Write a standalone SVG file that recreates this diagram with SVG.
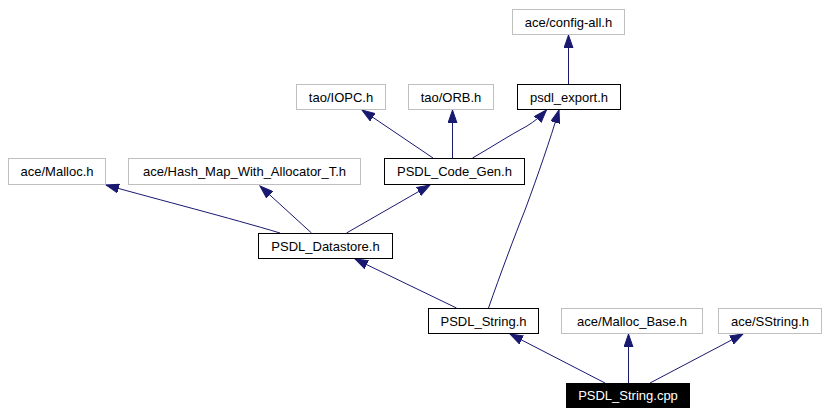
<svg xmlns="http://www.w3.org/2000/svg" width="827" height="415" viewBox="0 0 827 415">
<style>
.n rect{fill:#fff;stroke:#000;stroke-width:1}
.g rect{stroke:#bfbfbf}
.n text{font-family:"Liberation Sans",Arial,sans-serif;font-size:13px;text-anchor:middle;fill:#000}
#n_cpp rect{fill:#000;stroke:#000}
#n_cpp text{fill:#fff}
.e path{fill:none;stroke:#191970;stroke-width:1;marker-end:url(#arr)}
</style>
<defs>
<marker id="arr" markerUnits="userSpaceOnUse" markerWidth="14" markerHeight="10" refX="13" refY="5" orient="auto">
<path d="M0,0.5 L13,5 L0,9.5 z" fill="#191970" stroke="#191970"/>
</marker>
</defs>
<rect width="827" height="415" fill="#fff"/>
<g id="edges" class="e">
<path d="M568.5,84 L568.5,35"/>
<path d="M433,158 L362,110"/>
<path d="M452.5,158 L452.5,110"/>
<path d="M472.5,158 C490,148 510,135 527,126 C535,121 541,116 546.5,110"/>
<path d="M488.5,308 C500,275 515,235 525,210 C538,175 550,140 559,110"/>
<path d="M280,233 C230,218 160,200 106,185"/>
<path d="M311.5,233 L260,186"/>
<path d="M346.5,233 L430,185"/>
<path d="M456.5,308 L355,259"/>
<path d="M605,383 L510,334"/>
<path d="M628.5,383 L628.5,334"/>
<path d="M650,383 L743,334"/>
</g>
<g id="n_config" class="n g"><rect x="512.5" y="9.5" width="112" height="25"/><text x="568.5" y="26.5">ace/config-all.h</text></g>
<g id="n_iopc" class="n g"><rect x="296.5" y="84.5" width="89" height="25"/><text x="341" y="101.5">tao/IOPC.h</text></g>
<g id="n_orb" class="n g"><rect x="408.5" y="84.5" width="85" height="25"/><text x="451" y="101.5">tao/ORB.h</text></g>
<g id="n_export" class="n"><rect x="517.5" y="84.5" width="103" height="25"/><text x="569" y="101.5">psdl_export.h</text></g>
<g id="n_malloc" class="n g"><rect x="8.5" y="158.5" width="97" height="26"/><text x="57" y="176">ace/Malloc.h</text></g>
<g id="n_hash" class="n g"><rect x="128.5" y="158.5" width="232" height="26"/><text x="244.5" y="176">ace/Hash_Map_With_Allocator_T.h</text></g>
<g id="n_codegen" class="n"><rect x="384.5" y="158.5" width="140" height="26"/><text x="454.5" y="176">PSDL_Code_Gen.h</text></g>
<g id="n_datastore" class="n"><rect x="258.5" y="233.5" width="134" height="25"/><text x="325.5" y="250.5">PSDL_Datastore.h</text></g>
<g id="n_stringh" class="n"><rect x="428.5" y="308.5" width="110" height="25"/><text x="483.5" y="325.5">PSDL_String.h</text></g>
<g id="n_mallocbase" class="n g"><rect x="561.5" y="308.5" width="141" height="25"/><text x="632" y="325.5">ace/Malloc_Base.h</text></g>
<g id="n_sstring" class="n g"><rect x="718.5" y="308.5" width="103" height="25"/><text x="770" y="325.5">ace/SString.h</text></g>
<g id="n_cpp" class="n"><rect x="566.5" y="383.5" width="123" height="24"/><text x="628" y="400">PSDL_String.cpp</text></g>
</svg>
